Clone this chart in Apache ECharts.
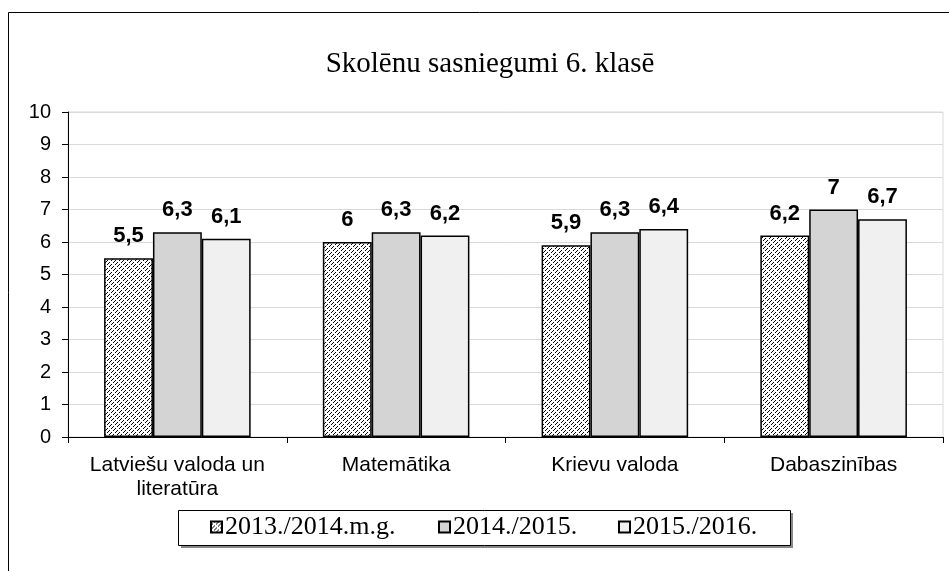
<!DOCTYPE html>
<html><head><meta charset="utf-8">
<script src="https://cdn.jsdelivr.net/npm/echarts@6/dist/echarts.min.js"></script>
<style>html,body{margin:0;padding:0;background:#fff}#c{width:949px;height:571px}</style>
</head><body><div id="c"></div>
<script>
const titleText = 'Skolēnu sasniegumi 6. klasē';
const categories = ['Latviešu valoda un\nliteratūra', 'Matemātika', 'Krievu valoda', 'Dabaszinības'];
const seriesNames = ['2013./2014.m.g.', '2014./2015.', '2015./2016.'];
const values2013 = [5.5, 6.0, 5.9, 6.2];
const values2014 = [6.3, 6.3, 6.3, 7.0];
const values2015 = [6.1, 6.2, 6.4, 6.7];
const yTicks = [0, 1, 2, 3, 4, 5, 6, 7, 8, 9, 10];

function hatch() {
  const c = document.createElement('canvas');
  c.width = 8; c.height = 8;
  const g = c.getContext('2d');
  g.fillStyle = '#fff'; g.fillRect(0, 0, 8, 8);
  g.fillStyle = '#000';
  for (let y = 0; y < 8; y++) {
    const xa = 7 - y;
    if (y % 4 !== 3) g.fillRect(xa, y, 1, 1);
    const xb = ((11 - y) % 8);
    if (y % 4 !== 1) g.fillRect(xb, y, 1, 1);
  }
  return c;
}
const pat = { image: hatch(), repeat: 'repeat' };
const fills = [pat, '#d4d4d4', '#f0f0f0'];
const data = [values2013, values2014, values2015];

const chart = echarts.init(document.getElementById('c'), null, { renderer: 'canvas' });
const legendLefts = [210, 438, 618];
chart.setOption({
  animation: false,
  backgroundColor: '#fff',
  graphic: [
    { type: 'rect', shape: { x: 8.5, y: 12.5, width: 1000, height: 1000 }, style: { fill: 'none', stroke: '#000', lineWidth: 1 }, z: -1 },
    { type: 'text', x: 490, y: 64, style: { text: titleText, fill: '#000', font: '29px "Liberation Serif"', textAlign: 'center', textVerticalAlign: 'middle' } },
    { type: 'rect', shape: { x: 181, y: 513, width: 612, height: 35 }, style: { fill: '#888' }, z: 0 },
    { type: 'rect', shape: { x: 178.5, y: 510.5, width: 612, height: 35 }, style: { fill: '#fff', stroke: '#000', lineWidth: 1 }, z: 1 }
  ],
  legend: seriesNames.map((n, i) => ({
    data: [n], left: legendLefts[i], top: 514, padding: 0, z: 5,
    icon: 'rect', itemWidth: 11, itemHeight: 11, itemGap: 4,
    textStyle: { fontFamily: 'Liberation Serif', fontSize: 26, color: '#000', padding: [0, 0, 0, -2] }
  })),
  grid: { left: 68, right: 6, top: 112, bottom: 134, show: true, borderColor: '#d9d9d9', borderWidth: 1 },
  xAxis: {
    type: 'category', data: categories,
    axisLine: { lineStyle: { color: '#000', width: 1 } },
    axisTick: { show: true, length: 6, interval: 0, lineStyle: { color: '#000' } },
    axisLabel: { interval: 0, margin: 16, fontFamily: 'Liberation Sans', fontSize: 21, color: '#000', lineHeight: 24 }
  },
  yAxis: {
    type: 'value', min: yTicks[0], max: yTicks[yTicks.length - 1], interval: 1,
    axisLine: { show: true, lineStyle: { color: '#000', width: 1 } },
    axisTick: { show: true, length: 6, lineStyle: { color: '#000' } },
    axisLabel: { margin: 17, fontFamily: 'Liberation Sans', fontSize: 20, color: '#000' },
    splitLine: { lineStyle: { color: '#d9d9d9', width: 1 } }
  },
  series: seriesNames.map((n, i) => ({
    name: n, type: 'bar', data: data[i],
    barCategoryGap: '33%', barGap: '0%',
    itemStyle: { color: fills[i], borderColor: '#000', borderWidth: 1.5 },
    label: {
      show: true, position: 'top', distance: 11,
      fontFamily: 'Liberation Sans', fontSize: 22, fontWeight: 'bold', color: '#000',
      formatter: p => String(p.value).replace('.', ',')
    }
  }))
});
</script></body></html>
